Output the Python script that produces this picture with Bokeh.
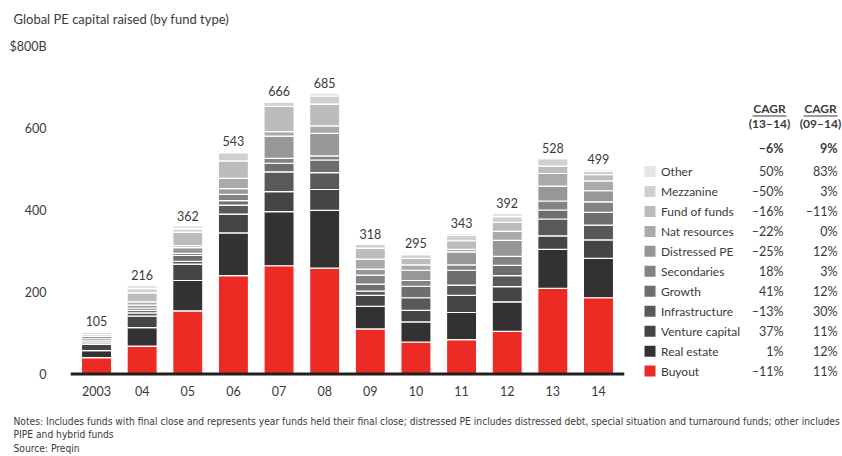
from bokeh.plotting import figure
from bokeh.layouts import column, row
from bokeh.models import (ColumnDataSource, FactorRange, Range1d, FixedTicker, LabelSet, Span)
from bokeh.core.properties import value
from bokeh.embed import file_html
from bokeh.resources import INLINE

# ---------------- data ----------------
years = ["2003", "04", "05", "06", "07", "08", "09", "10", "11", "12", "13", "14"]
fund_types = ["Buyout", "Real estate", "Venture capital", "Infrastructure", "Growth",
              "Secondaries", "Distressed PE", "Nat resources", "Fund of funds",
              "Mezzanine", "Other"]
buyout          = [40, 68, 154, 240, 264, 258, 110, 78, 84, 104, 209, 186]
real_estate     = [17, 45, 74, 104, 132, 141, 55, 49, 66, 72, 95, 96]
venture_capital = [15, 28, 40, 46, 49, 51, 27, 28, 42, 37, 33, 45]
infrastructure  = [4, 8, 7, 22, 48, 41, 10, 31, 25, 27, 41, 36]
growth          = [5, 6, 14, 11, 21, 31, 17, 28, 36, 25, 22, 31]
secondaries     = [5, 6, 5, 15, 12, 10, 22, 14, 13, 22, 22, 26]
distressed_pe   = [6, 7, 14, 14, 54, 55, 15, 25, 32, 39, 36, 27]
nat_resources   = [4, 8, 5, 25, 11, 18, 24, 13, 6, 22, 31, 24]
fund_of_funds   = [5, 22, 33, 43, 62, 53, 27, 16, 21, 22, 18, 15]
mezzanine       = [2, 10, 8, 20, 10, 20, 10, 9, 13, 14, 18, 9]
other           = [2, 8, 8, 3, 3, 7, 1, 4, 5, 8, 3, 4]
totals          = [105, 216, 362, 543, 666, 685, 318, 295, 343, 392, 528, 499]

cagr_13_14 = ["–11%", "1%", "37%", "–13%", "41%", "18%", "–25%", "–22%", "–16%", "–50%", "50%"]
cagr_09_14 = ["11%", "12%", "11%", "30%", "12%", "3%", "12%", "0%", "–11%", "3%", "83%"]
total_cagr = ["–6%", "9%"]
cagr_headers = ["(13–14)", "(09–14)"]

y_ticks = [0, 200, 400, 600, 800]
y_tick_labels = ["0", "200", "400", "600", "$800B"]

title_text = "Global PE capital raised (by fund type)"
notes = ["Notes: Includes funds with final close and represents year funds held their final close; "
         "distressed PE includes distressed debt, special situation and turnaround funds; other includes",
         "PIPE and hybrid funds",
         "Source: Preqin"]

colors = ["#ec2c24", "#333132", "#454546", "#59595a", "#6e6e6f", "#838384",
          "#979798", "#aaaaab", "#bcbcbe", "#d0d0d1", "#e4e4e5"]

keys = ["buyout", "real_estate", "venture_capital", "infrastructure", "growth",
        "secondaries", "distressed_pe", "nat_resources", "fund_of_funds", "mezzanine", "other"]
series = [buyout, real_estate, venture_capital, infrastructure, growth, secondaries,
          distressed_pe, nat_resources, fund_of_funds, mezzanine, other]
data = {"year": years, "total": totals, "label": [str(t) for t in totals]}
for k, s in zip(keys, series):
    data[k] = s
source = ColumnDataSource(data)

FONT = "Lato"
NFONT = "'Liberation Sans Narrow', 'DejaVu Sans Condensed', Roboto"
TXT = "#3a3a3a"

# page layout (page px, no body margin): top 0..30, middle 30..400, bottom 400..455
TOP_H, MID_H, BOT_H = 30, 370, 55
MAIN_W, RIGHT_W = 630, 212
B_TOP, B_BOT = 8, 22                      # frame spans page y 38..378
FRAME_TOP = TOP_H + B_TOP
FRAME_BOT = TOP_H + MID_H - B_BOT
BASELINE = 373.5                          # page y of value 0
PX_PER_UNIT = 0.41


def blank(w, h, x0, x1, y0, y1, top=0, bottom=0):
    f = figure(width=w, height=h, x_range=Range1d(x0, x1), y_range=Range1d(y1, y0),
               output_backend="svg", toolbar_location=None,
               x_axis_type=None, y_axis_type=None,
               min_border=0, min_border_left=0, min_border_right=0,
               min_border_top=top, min_border_bottom=bottom)
    f.outline_line_color = None
    return f


# ---------------- main chart ----------------
p = figure(width=MAIN_W, height=MID_H,
           x_range=FactorRange(*years, range_padding=0.07, range_padding_units="absolute"),
           y_range=Range1d(-(FRAME_BOT - BASELINE) / PX_PER_UNIT,
                           (BASELINE - FRAME_TOP) / PX_PER_UNIT),
           output_backend="svg", toolbar_location=None,
           min_border_left=70, min_border_right=6, min_border_top=B_TOP, min_border_bottom=B_BOT)
p.outline_line_color = None
p.xgrid.grid_line_color = None
p.ygrid.grid_line_color = None

renderers = p.vbar_stack(keys, x="year", width=0.66, color=colors, source=source,
                         line_color="white", line_width=1.2)

# baseline at value 0
p.add_layout(Span(location=0, dimension="width", line_color="#231f20", line_width=3))

p.xaxis.axis_line_color = None
p.xaxis.major_tick_line_color = None
p.xaxis.minor_tick_line_color = None
p.xaxis.major_label_standoff = 1
p.xaxis.major_label_text_font = FONT
p.xaxis.major_label_text_font_size = "12.5px"
p.xaxis.major_label_text_color = TXT

p.yaxis.axis_line_color = None
p.yaxis.major_tick_line_color = None
p.yaxis.minor_tick_line_color = None
p.yaxis.ticker = FixedTicker(ticks=y_ticks)
p.yaxis.major_label_overrides = {t: l for t, l in zip(y_ticks, y_tick_labels)}
p.yaxis.major_label_standoff = 18
p.yaxis.major_label_text_font = FONT
p.yaxis.major_label_text_font_size = "12.5px"
p.yaxis.major_label_text_color = TXT

p.add_layout(LabelSet(x="year", y="total", text="label", source=source, y_offset=5,
                      text_align="center", text_baseline="bottom",
                      text_font=value(FONT), text_font_size=value("12.5px"),
                      text_color=value(TXT)))

# ---------------- title strip ----------------
W = MAIN_W + RIGHT_W
top = blank(W, TOP_H, 0, W, 0, TOP_H)
top.text(x=[13], y=[18], text=[title_text], text_align="left", text_baseline="middle",
         text_font=value(FONT), text_font_size=value("13px"), text_color=TXT)

# ---------------- legend / CAGR table (frame = page y 38..378) ----------------
rt = blank(RIGHT_W, MID_H, MAIN_W, W, FRAME_TOP, FRAME_BOT, top=B_TOP, bottom=B_BOT)
n = len(fund_types)
row_y = [370.6 - 19.96 * i for i in range(n)]
rt.rect(x=[649.5] * n, y=row_y, width=11, height=11, fill_color=colors, line_color=None)
rt.text(x=[660.5] * n, y=row_y, text=fund_types, text_align="left", text_baseline="middle",
        text_font=value(FONT), text_font_size=value("12px"), text_color=TXT)
rt.text(x=[783] * n, y=row_y, text=cagr_13_14, text_align="right", text_baseline="middle",
        text_font=value(FONT), text_font_size=value("12.5px"), text_color=TXT)
rt.text(x=[837] * n, y=row_y, text=cagr_09_14, text_align="right", text_baseline="middle",
        text_font=value(FONT), text_font_size=value("12.5px"), text_color=TXT)
col_center = [769, 820]
rt.text(x=col_center, y=[108, 108], text=["CAGR", "CAGR"], text_align="center",
        text_baseline="middle", text_font=value(FONT), text_font_size=value("12px"),
        text_font_style="bold", text_color=TXT)
rt.text(x=col_center, y=[123, 123], text=cagr_headers, text_align="center",
        text_baseline="middle", text_font=value(FONT), text_font_size=value("12px"),
        text_font_style="bold", text_color=TXT)
rt.text(x=[783, 837], y=[148, 148], text=total_cagr, text_align="right",
        text_baseline="middle", text_font=value(FONT), text_font_size=value("12.5px"),
        text_font_style="bold", text_color=TXT)
rt.segment(x0=[c - 17 for c in col_center], x1=[c + 17 for c in col_center],
           y0=[115.5, 115.5], y1=[115.5, 115.5], line_color=TXT, line_width=1.2)

# ---------------- notes strip ----------------
y_bot0 = TOP_H + MID_H
bot = blank(W, BOT_H, 0, W, y_bot0, y_bot0 + BOT_H)
bot.text(x=[13, 13, 13], y=[421, 434, 448], text=notes, text_align="left",
         text_baseline="middle", text_font=value(NFONT), text_font_size=value("10.2px"),
         text_color=TXT)

layout = column(top, row(p, rt, spacing=0), bot, spacing=0)
open("out.html", "w").write(file_html(layout, INLINE))
